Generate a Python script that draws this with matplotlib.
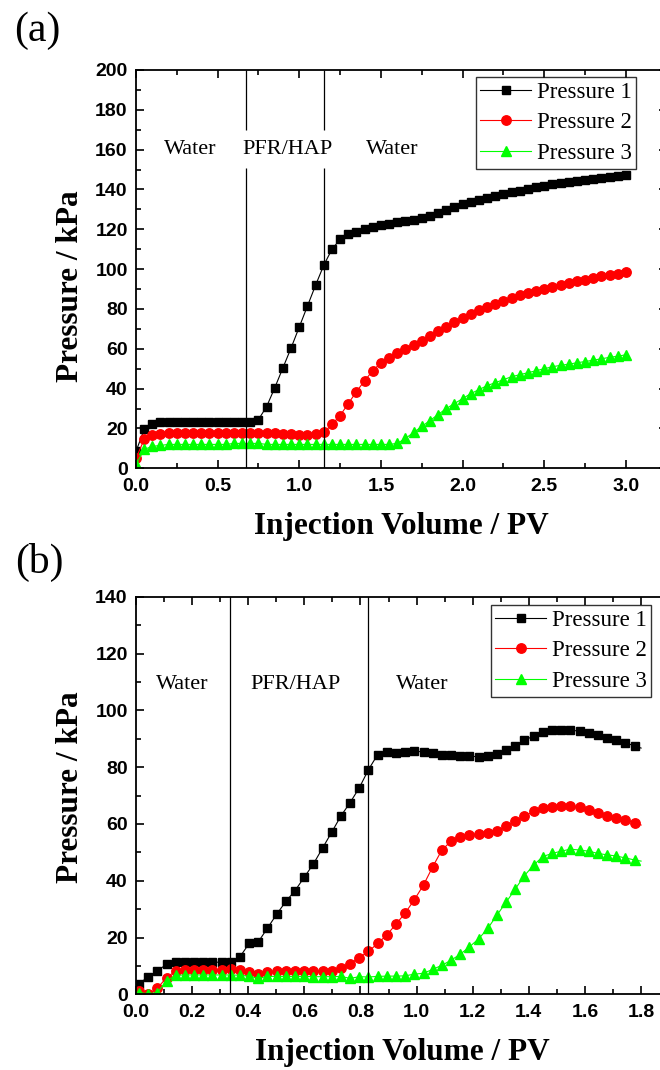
import numpy as np
import matplotlib
matplotlib.use("Agg")
import matplotlib.pyplot as plt
from matplotlib.ticker import MultipleLocator

# ---- panel (a) data: injection volume / PV vs pressure / kPa ----
xa = np.linspace(0.0, 3.0, 61)
p1_a = [8.5, 19.5, 22, 23,
        23, 23, 23, 23, 23, 23, 23, 23, 23, 23, 23,
        24.5, 31, 40.5, 50.5, 60.5, 71, 81.5, 92, 102, 110, 115, 117.5, 118.5,
        120, 121, 122, 122.5, 123.5, 124, 124.5, 125.5, 126.5, 128, 129.5, 131,
        132.5, 133.5, 134.5, 135.5, 136.5, 137.5, 138.5, 139.3, 140, 141, 142,
        142.7, 143.3, 144, 144.5, 145, 145.5, 146, 146.5, 147, 147.5]
p2_a = [5, 14.5, 16.5,
        17, 17.5, 17.5, 17.5, 17.5, 17.5, 17.5, 17.5, 17.5, 17.5, 17.5, 17.5, 17.5, 17.5, 17.5,
        17, 17, 16.5, 16.5, 17,
        18, 22, 26.5, 32.5, 38.5, 44, 49, 53, 55.5, 58,
        60, 62, 64, 66.5, 69, 71, 73.5, 75.5, 77.5, 79.5, 81, 82.5, 84, 85.5,
        87, 88, 89, 90, 91, 92, 93, 94, 94.5, 95.5, 96.5, 97, 97.5, 98.5]
p3_a = [2, 9.5, 11,
        11.5, 12, 12, 12, 12, 12, 12, 12, 12, 12.5, 12.5, 12.5, 12.5, 12, 12,
        12, 12, 12, 12, 12, 12, 12, 12, 12, 12, 12, 12, 12, 12,
        12.5, 15, 18, 21, 24, 27, 30, 32.5, 35, 37.5, 39.5, 41.5, 43, 44.5,
        46, 47, 48, 49, 50, 51, 51.7, 52.3, 53, 53.6, 54.3, 55, 55.7, 56.3, 57]

# ---- panel (b) data ----
xb = list(np.linspace(0.0107, 1.777, 55)) + [1.80]
p1_b = [3.8, 6.1, 8.2, 10.6, 11.2, 11.3, 11.3, 11.3, 11.3, 11.3, 11.3,
        13.2, 17.9, 18.5, 23.3, 28.2, 32.7, 36.5, 41.2, 45.9, 51.5, 57.1,
        62.8, 67.5, 72.7, 79.1, 84.4, 85.2, 84.9, 85.2, 85.8, 85.2, 84.8,
        84.4, 84.1, 83.9, 83.9, 83.6, 83.9, 84.7, 86.1, 87.5, 89.4, 91.0,
        92.2, 93.0, 93.1, 93.1, 92.6, 92.0, 91.2, 90.4, 89.5, 88.5, 87.5, 86.7]
p2_b = [1.2, 0.2, 2.1, 5.9, 8.2, 8.5, 8.5, 8.6, 8.7, 8.7, 8.8,
        8.5, 8.0, 7.3, 7.9, 8.2, 8.2, 8.2, 8.2, 8.2, 8.2, 8.2,
        9.4, 10.8, 12.9, 15.1, 17.9, 20.9, 24.7, 28.6, 33.3, 38.5, 44.9,
        50.8, 53.9, 55.3, 56.1, 56.5, 56.8, 57.6, 59.1, 60.9, 62.7, 64.4,
        65.5, 66.1, 66.2, 66.2, 65.9, 64.9, 64.0, 62.9, 62.1, 61.4, 60.4, 59.6]
p3_b = [0.6, 0.2, 0.6, 4.7, 6.7, 6.8, 6.8, 6.8, 6.8, 6.8, 6.8,
        6.7, 6.4, 5.6, 6.3, 6.3, 6.3, 6.3, 6.3, 6.2, 6.2, 6.2,
        6.3, 5.6, 6.2, 6.1, 6.3, 6.4, 6.4, 6.5, 7.1, 7.4, 8.8,
        10.2, 12.0, 14.1, 16.7, 19.5, 23.2, 27.9, 32.4, 37.1, 41.8, 45.5,
        48.5, 49.6, 50.4, 51.1, 50.8, 50.4, 49.6, 49.1, 48.7, 48.0, 47.3, 46.9]

labels = ["Pressure 1", "Pressure 2", "Pressure 3"]
colors = ["black", "#ff0000", "#00ff00"]
markers = ["s", "o", "^"]
msizes = [5.5, 6.8, 7]

tickfont = {"family": "Liberation Sans", "weight": "bold", "size": 14}
serif = "Liberation Serif"

fig = plt.figure(figsize=(6.6, 10.7), dpi=100)


def setup(ax, xlim, ylim, xmaj, xmin, ymaj, ymin, ylab_y):
    ax.set_xlim(*xlim)
    ax.set_ylim(*ylim)
    ax.xaxis.set_major_locator(MultipleLocator(xmaj))
    ax.xaxis.set_minor_locator(MultipleLocator(xmin))
    ax.yaxis.set_major_locator(MultipleLocator(ymaj))
    ax.yaxis.set_minor_locator(MultipleLocator(ymin))
    ax.tick_params(which="both", direction="in", top=True, right=True, width=1.2)
    ax.tick_params(which="major", length=6)
    ax.tick_params(which="minor", length=3.5)
    ax.tick_params(axis="x", which="major", pad=7)
    ax.tick_params(axis="y", which="major", pad=6)
    for s in ax.spines.values():
        s.set_linewidth(1.3)
    for lab in ax.get_xticklabels() + ax.get_yticklabels():
        lab.set_fontfamily(tickfont["family"])
        lab.set_fontweight("bold")
        lab.set_fontsize(tickfont["size"])
    ax.set_xlabel("Injection Volume / PV", family=serif, weight="bold", fontsize=22.5, labelpad=12)
    ax.set_ylabel("Pressure / kPa", family=serif, weight="bold", fontsize=22.5)
    ax.yaxis.set_label_coords(-0.096, ylab_y)


def draw(ax, x, series, mark_last=True):
    for y, lab, c, m, ms in zip(series, labels, colors, markers, msizes):
        me = None if mark_last else slice(0, len(x) - 1)
        ax.plot(x, y, color=c, lw=0.8, marker=m, ms=ms, mec=c, mfc=c,
                label=lab, markevery=me)


# ---- panel (a) ----
ax1 = fig.add_axes([136 / 660, 1 - 468.3 / 1070, 3.25 * 163.3 / 660, 398.3 / 1070])
draw(ax1, xa, [p1_a, p2_a, p3_a])
for xv in [0.676, 1.15]:
    ax1.vlines(xv, 0, 151, color="black", lw=0.9)
    ax1.vlines(xv, 170, 200, color="black", lw=0.9)
ax1.text(0.33, 160, "Water", family=serif, fontsize=16, ha="center", va="center")
ax1.text(0.93, 160, "PFR/HAP", family=serif, fontsize=16, ha="center", va="center")
ax1.text(1.57, 160, "Water", family=serif, fontsize=16, ha="center", va="center")
setup(ax1, (0, 3.25), (0, 200), 0.5, 0.25, 20, 10, 0.457)

# ---- panel (b) ----
ax2 = fig.add_axes([136 / 660, 1 - 994.3 / 1070, 1.9 * 280.6 / 660, 397.6 / 1070])
draw(ax2, xb, [p1_b, p2_b, p3_b], mark_last=False)
for xv in [0.335, 0.828]:
    ax2.axvline(xv, color="black", lw=0.9)
ax2.text(0.164, 109, "Water", family=serif, fontsize=16, ha="center", va="center")
ax2.text(0.57, 109, "PFR/HAP", family=serif, fontsize=16, ha="center", va="center")
ax2.text(1.02, 109, "Water", family=serif, fontsize=16, ha="center", va="center")
setup(ax2, (0, 1.9), (0, 140), 0.2, 0.1, 20, 10, 0.52)

for ax, (lx, ty, rx, by) in [(ax1, (471, 77, 636, 167)), (ax2, (485, 605, 651, 694))]:
    leg = ax.legend(loc="upper right",
                    bbox_to_anchor=(rx / 660, 1 - ty / 1070),
                    bbox_transform=fig.transFigure,
                    prop={"family": serif, "size": 16.5},
                    frameon=True, fancybox=False, edgecolor="black",
                    borderpad=0.2, labelspacing=0.42, handlelength=2.2,
                    handletextpad=0.25, borderaxespad=0.0)
    leg.get_frame().set_linewidth(1.0)

fig.text(37 / 660, 1 - 31 / 1070, "(a)", family=serif, fontsize=30, ha="center", va="center")
fig.text(39 / 660, 1 - 562 / 1070, "(b)", family=serif, fontsize=30, ha="center", va="center")

fig.savefig("out.png", dpi=100)
